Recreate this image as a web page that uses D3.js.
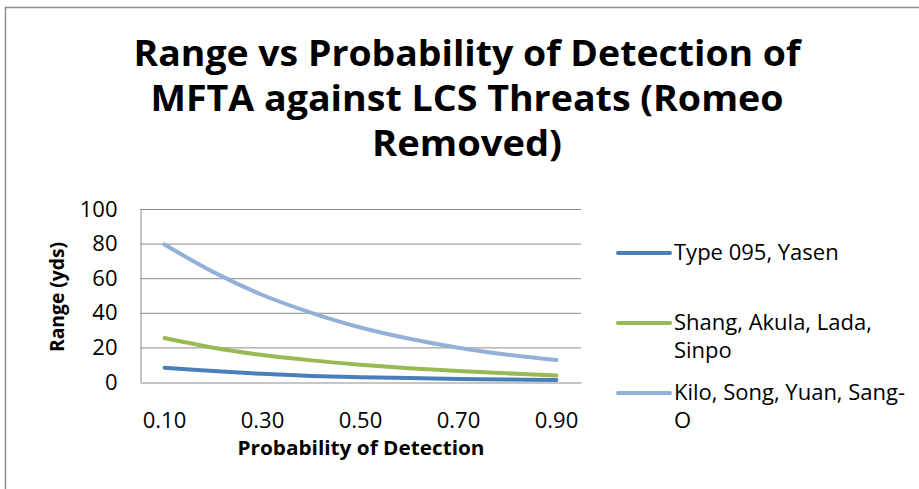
<!DOCTYPE html>
<html>
<head>
<meta charset="utf-8">
<script src="https://cdn.jsdelivr.net/npm/d3@7"></script>
<style>
  body { margin: 0; background: #fff; }
  svg { display: block; font-family: "Open Sans", "Noto Sans", sans-serif; }
</style>
</head>
<body>
<div id="chart"></div>
<script>
var categories = ["0.10", "0.20", "0.30", "0.40", "0.50", "0.60", "0.70", "0.80", "0.90"]
var tickLabels = ["0.10", "0.30", "0.50", "0.70", "0.90"]
var yTicks = [0, 20, 40, 60, 80, 100]

var seriesNames = ["Type 095, Yasen", "Shang, Akula, Lada, Sinpo", "Kilo, Song, Yuan, Sang-O"]
var type095 = [8.3, 6.3, 4.7, 3.5, 2.8, 2.3, 1.8, 1.4, 1.1]
var shang = [25.4, 19.8, 15.6, 12.5, 10, 8, 6.4, 5, 3.7]
var kilo = [79.5, 63.5, 50.3, 40, 31.5, 25, 19.8, 15.8, 12.7]

var titleLines = ["Range vs Probability of Detection of", "MFTA against LCS Threats (Romeo", "Removed)"]
var legendLines = [["Type 095, Yasen"], ["Shang, Akula, Lada,", "Sinpo"], ["Kilo, Song, Yuan, Sang-", "O"]]

var colors = ["#4A7EBB", "#98B954", "#93B0D8"]

var width = 919, height = 489
var plot = {left: 140, right: 581, top: 209, bottom: 382}

var svg = d3.select("#chart").append("svg")
    .attr("width", width)
    .attr("height", height)

// outer frame
svg.append("rect")
    .attr("x", 5.5).attr("y", 7.5)
    .attr("width", width + 10).attr("height", height + 10)
    .attr("fill", "none")
    .attr("stroke", "#8c8c8c")
    .attr("stroke-width", 1.5)

// title
var titleWidths = [667, 633, 190]
svg.append("g").selectAll("text")
    .data(titleLines)
    .enter().append("text")
    .attr("x", 467)
    .attr("y", (d, i) => 66 + i * 45)
    .attr("text-anchor", "middle")
    .attr("font-size", 36)
    .attr("font-weight", "bold")
    .attr("textLength", (d, i) => titleWidths[i])
    .attr("lengthAdjust", "spacingAndGlyphs")
    .text(d => d)

var x = d3.scaleBand()
    .domain(categories)
    .range([plot.left, plot.right])

var y = d3.scaleLinear()
    .domain([0, 100])
    .range([plot.bottom, plot.top])

// gridlines
svg.append("g").selectAll("line")
    .data(yTicks.filter(d => d > 0))
    .enter().append("line")
    .attr("x1", plot.left).attr("x2", plot.right)
    .attr("y1", d => y(d) + 0.5).attr("y2", d => y(d) + 0.5)
    .attr("stroke", "#8c8c8c")
    .attr("stroke-width", 1)

// y axis
var yAxis = svg.append("g")
    .attr("transform", "translate(" + (plot.left + 0.5) + ",0)")
    .call(d3.axisLeft(y).tickValues(yTicks).tickSize(0).tickPadding(23))
yAxis.select(".domain").attr("stroke", "#8c8c8c")
yAxis.selectAll("text")
    .attr("font-size", 22)
    .attr("font-family", "Open Sans")
    .attr("fill", "#000")

// x axis
var xAxis = svg.append("g")
    .attr("transform", "translate(0," + (plot.bottom + 0.5) + ")")
    .call(d3.axisBottom(x).tickValues(tickLabels).tickSize(0).tickPadding(30))
xAxis.select(".domain").attr("stroke", "#8c8c8c")
xAxis.selectAll("text")
    .attr("font-size", 22)
    .attr("font-family", "Open Sans")
    .attr("fill", "#000")

// axis titles
svg.append("text")
    .attr("transform", "translate(64,297) rotate(-90)")
    .attr("text-anchor", "middle")
    .attr("font-size", 19)
    .attr("font-weight", "bold")
    .attr("textLength", 110)
    .attr("lengthAdjust", "spacingAndGlyphs")
    .text("Range (yds)")

svg.append("text")
    .attr("x", 361)
    .attr("y", 455)
    .attr("text-anchor", "middle")
    .attr("font-size", 20)
    .attr("font-weight", "bold")
    .attr("textLength", 247)
    .attr("lengthAdjust", "spacingAndGlyphs")
    .text("Probability of Detection")

// lines
var line = d3.line()
    .x((d, i) => x(categories[i]) + x.bandwidth() / 2)
    .y(d => y(d))
    .curve(d3.curveCatmullRom.alpha(0.5))

var allSeries = [type095, shang, kilo]

svg.append("g").selectAll("path")
    .data(allSeries)
    .enter().append("path")
    .attr("d", d => line(d))
    .attr("fill", "none")
    .attr("stroke", (d, i) => colors[i])
    .attr("stroke-width", 4)
    .attr("stroke-linecap", "round")

// legend
var legendY = [253, 323, 393]
var legend = svg.append("g").selectAll("g")
    .data(seriesNames)
    .enter().append("g")
    .attr("transform", (d, i) => "translate(618," + legendY[i] + ")")

legend.append("line")
    .attr("x1", 0).attr("x2", 52)
    .attr("y1", 0).attr("y2", 0)
    .attr("stroke", (d, i) => colors[i])
    .attr("stroke-width", 4)
    .attr("stroke-linecap", "round")

legend.each(function(d, i) {
    d3.select(this).selectAll("text")
        .data(legendLines[i])
        .enter().append("text")
        .attr("x", 56)
        .attr("y", (t, j) => 7 + j * 28)
        .attr("font-size", 22)
        .text(t => t)
})
</script>
</body>
</html>
